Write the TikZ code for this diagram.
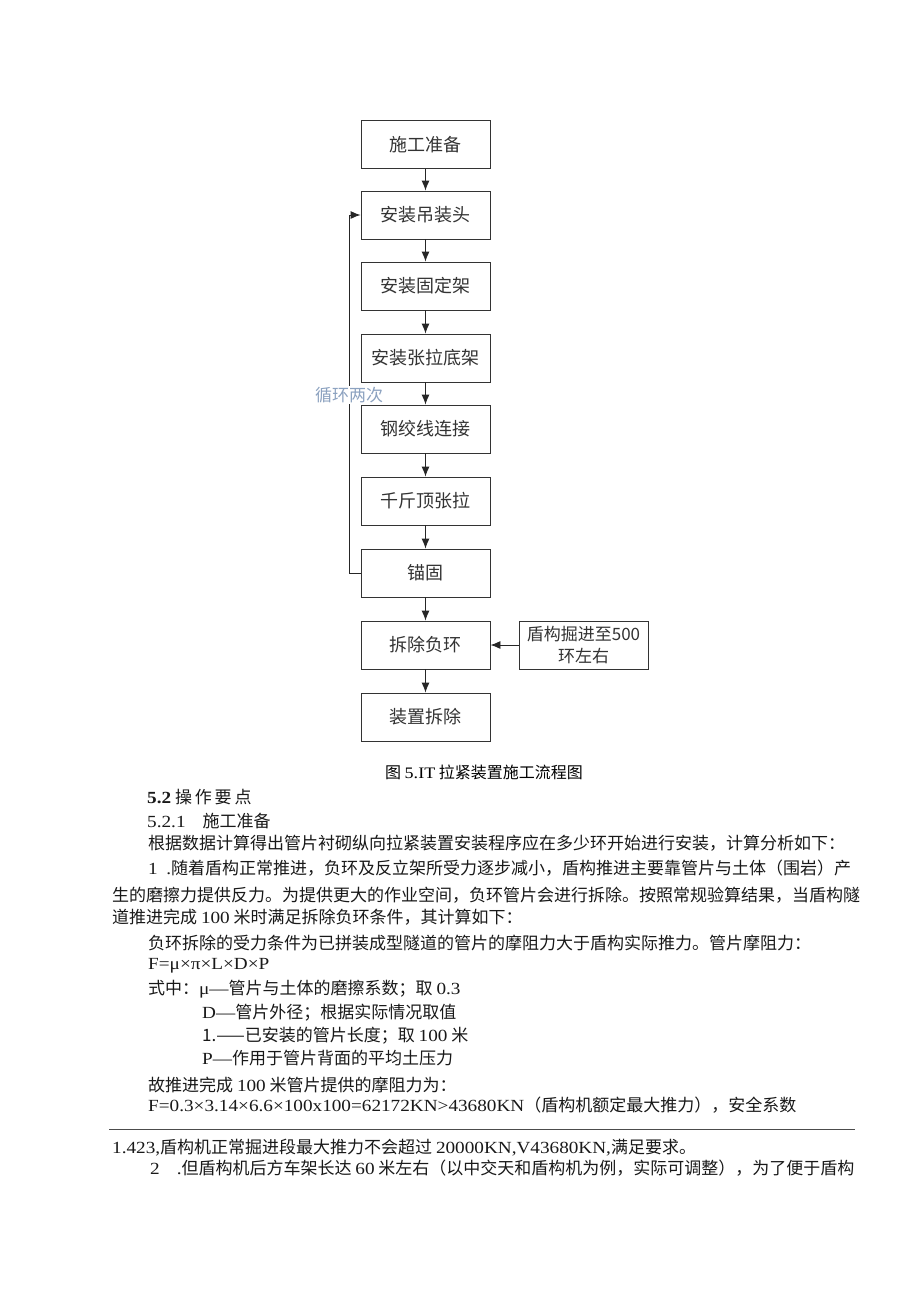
\documentclass[tikz,border=0pt]{standalone}
\usepackage{fontspec}
\setmainfont[FakeStretch=1.13]{Liberation Serif}
\newfontfamily\cjk{Noto Sans CJK SC}
\usetikzlibrary{arrows.meta}
\newcommand\tm[1]{{\rmfamily #1}}
\tikzset{
  box/.style={draw=black!80, line width=0.9pt, minimum width=129pt, minimum height=48pt, inner sep=0pt,
    font=\cjk\fontsize{18}{20}\selectfont, text=black!80},
  arr/.style={-{Latex[length=10pt,width=8pt]}, line width=0.9pt, draw=black!85},
  txt/.style={anchor=base west, inner sep=0pt, font=\cjk\fontsize{17}{20}\selectfont, text=black!90},
  looplabel/.style={fill=white, inner sep=1pt, font=\cjk\fontsize{17}{20}\selectfont, text={rgb,255:red,140;green,162;blue,192}}
}
\begin{document}
\begin{tikzpicture}[x=1pt,y=-1pt]
\useasboundingbox[fill=white] (0,0) rectangle (920,1301);
% flowchart
\node[box] (b1) at (425.5,144.5) {施工准备};
\node[box] (b2) at (425.5,215) {安装吊装头};
\node[box] (b3) at (425.5,286) {安装固定架};
\node[box] (b4) at (425.5,358) {安装张拉底架};
\node[box] (b5) at (425.5,429) {钢绞线连接};
\node[box] (b6) at (425.5,501) {千斤顶张拉};
\node[box] (b7) at (425.5,573) {锚固};
\node[box] (b8) at (425.5,645) {拆除负环};
\node[box] (b9) at (425.5,717) {装置拆除};
\node[box, align=center, font=\cjk\fontsize{17}{22}\selectfont] (r1) at (583.5,645) {盾构掘进至500\\环左右};
\draw[arr] (b1) -- (b2);
\draw[arr] (b2) -- (b3);
\draw[arr] (b3) -- (b4);
\draw[arr] (b4) -- (b5);
\draw[arr] (b5) -- (b6);
\draw[arr] (b6) -- (b7);
\draw[arr] (b7) -- (b8);
\draw[arr] (b8) -- (b9);
\draw[arr] (r1) -- (b8);
\coordinate (lp1) at (349,573);
\coordinate (lp2) at (349,215);
\draw[arr] (b7.west) -- (lp1) -- (lp2) -- (b2.west);
\node[looplabel] (ll) at (349,395) {循环两次};
% caption
\node[inner sep=0pt, font=\cjk\fontsize{16}{18}\selectfont, anchor=base] (cap) at (484,778) {图 \tm{5.IT} 拉紧装置施工流程图};
% text
\node[txt] (t1) at (147,803) {\tm{\textbf{5.2}} 操\,作\,要\,点};
\node[txt] (t2) at (147,827.5) {\tm{5.2.1}\quad 施工准备};
\node[txt] (t3) at (148,849.5) {根据数据计算得出管片衬砌纵向拉紧装置安装程序应在多少环开始进行安装，计算分析如下：};
\node[txt] (t4) at (148,874.5) {\tm{1\enspace .}随着盾构正常推进，负环及反立架所受力逐步减小，盾构推进主要靠管片与土体（围岩）产};
\node[txt] (t5) at (112,901.5) {生的磨擦力提供反力。为提供更大的作业空间，负环管片会进行拆除。按照常规验算结果，当盾构隧};
\node[txt] (t6) at (112,923.5) {道推进完成 \tm{100} 米时满足拆除负环条件，其计算如下：};
\node[txt] (t7) at (148,949.5) {负环拆除的受力条件为已拼装成型隧道的管片的摩阻力大于盾构实际推力。管片摩阻力：};
\node[txt] (t8) at (148,969.5) {\tm{F=μ×π×L×D×P}};
\node[txt] (t9) at (148,994.5) {式中：\tm{μ—}管片与土体的磨擦系数；取 \tm{0.3}};
\node[txt] (t10) at (202,1018.5) {\tm{D—}管片外径；根据实际情况取值};
\node[txt] (t11) at (202,1041.5) {1.——已安装的管片长度；取 \tm{100} 米};
\node[txt] (t12) at (202,1064.5) {\tm{P—}作用于管片背面的平均土压力};
\node[txt] (t13) at (148,1091.5) {故推进完成 \tm{100} 米管片提供的摩阻力为：};
\node[txt] (t14) at (148,1111.5) {\tm{F=0.3×3.14×6.6×100x100=62172KN>43680KN}（盾构机额定最大推力），安全系数};
\coordinate (ra) at (109,1129);
\coordinate (rb) at (855,1129);
\draw[line width=0.6pt, black!70] (ra) -- (rb);
\node[txt] (t15) at (112,1153.5) {\tm{1.423,}盾构机正常掘进段最大推力不会超过 \tm{20000KN,V43680KN,}满足要求。};
\node[txt] (t16) at (150,1174.5) {\tm{2\quad .}但盾构机后方车架长达 \tm{60} 米左右（以中交天和盾构机为例，实际可调整），为了便于盾构};
\end{tikzpicture}
\end{document}
